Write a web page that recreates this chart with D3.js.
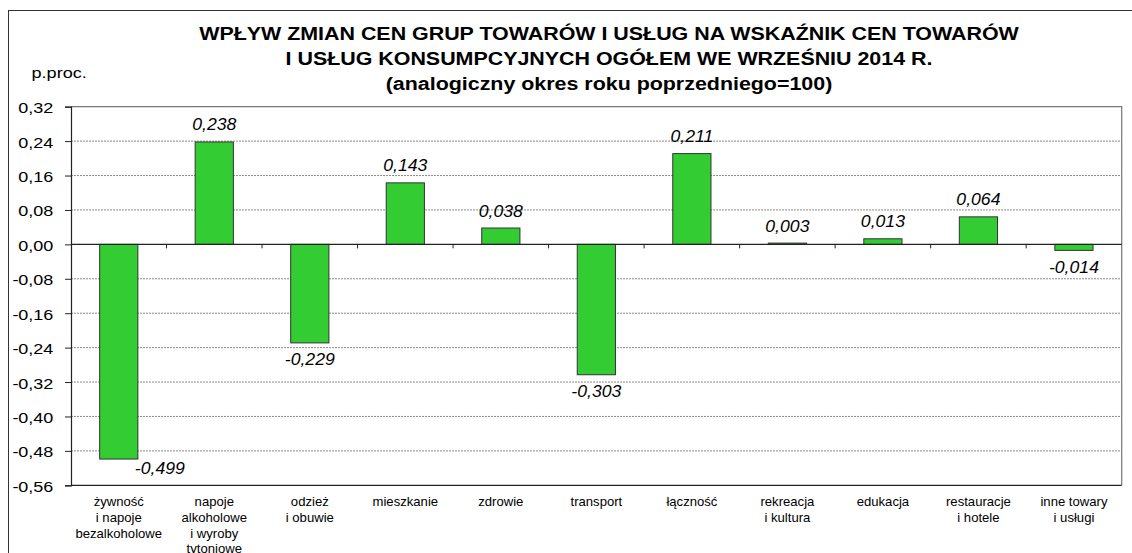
<!DOCTYPE html>
<html>
<head>
<meta charset="utf-8">
<script src="https://cdn.jsdelivr.net/npm/d3@7"></script>
<style>
  body { margin: 0; background: #fff; }
  text { font-family: Arial, "Liberation Sans", sans-serif; }
</style>
</head>
<body>
<script>
// data
const categories = [
  ["żywność", "i napoje", "bezalkoholowe"],
  ["napoje", "alkoholowe", "i wyroby", "tytoniowe"],
  ["odzież", "i obuwie"],
  ["mieszkanie"],
  ["zdrowie"],
  ["transport"],
  ["łączność"],
  ["rekreacja", "i kultura"],
  ["edukacja"],
  ["restauracje", "i hotele"],
  ["inne towary", "i usługi"]
];
const values = [-0.499, 0.238, -0.229, 0.143, 0.038, -0.303, 0.211, 0.003, 0.013, 0.064, -0.014];
const yTicks = [0.32, 0.24, 0.16, 0.08, 0, -0.08, -0.16, -0.24, -0.32, -0.40, -0.48, -0.56];
const titleLines = [
  "WPŁYW ZMIAN CEN GRUP TOWARÓW I USŁUG NA WSKAŹNIK CEN TOWARÓW",
  "I USŁUG KONSUMPCYJNYCH OGÓŁEM WE WRZEŚNIU 2014 R.",
  "(analogiczny okres roku poprzedniego=100)"
];
const unitLabel = "p.proc.";

const width = 1132;
const height = 553;
const margin = {top: 106.7, right: 10.3, bottom: 67.7, left: 71};

const svg = d3.create("svg")
  .attr("width", width)
  .attr("height", height)
  .attr("viewBox", [0, 0, width, height]);

// outer frame
svg.append("rect")
  .attr("x", 8.5).attr("y", 10.5)
  .attr("width", width + 10).attr("height", height + 10)
  .attr("fill", "none").attr("stroke", "#333").attr("stroke-width", 1);

const x = d3.scaleBand()
  .domain(d3.range(categories.length))
  .range([margin.left, width - margin.right])
  .paddingInner(0.6).paddingOuter(0.3);

const y = d3.scaleLinear()
  .domain([-0.56, 0.32])
  .range([height - margin.bottom, margin.top]);

const fmt = v => d3.format(".2f")(v).replace(".", ",").replace("−", "-");
const fmt3 = v => d3.format(".3f")(v).replace(".", ",").replace("−", "-");

// grid
svg.append("g")
  .selectAll("line")
  .data(yTicks.filter(t => t !== 0 && t !== 0.32 && t !== -0.56))
  .join("line")
  .attr("x1", margin.left).attr("x2", width - margin.right)
  .attr("y1", d => y(d)).attr("y2", d => y(d))
  .attr("stroke", "#8a8a8a")
  .attr("stroke-width", 1)
  .attr("stroke-dasharray", "2,1");

// plot border (top, right)
svg.append("path")
  .attr("d", `M${margin.left},${y(0.32)}H${width - margin.right}V${y(-0.56)}`)
  .attr("fill", "none").attr("stroke", "#777").attr("stroke-width", 1.2);
svg.append("line")
  .attr("x1", margin.left).attr("x2", width - margin.right)
  .attr("y1", y(-0.56)).attr("y2", y(-0.56))
  .attr("stroke", "#222").attr("stroke-width", 1.2);

// y axis
const yAxis = svg.append("g")
  .attr("transform", `translate(${margin.left},0)`)
  .call(d3.axisLeft(y).tickValues(yTicks).tickFormat(fmt).tickSize(6));
yAxis.select(".domain").attr("stroke", "#222").attr("stroke-width", 1.2);
yAxis.selectAll(".tick line").attr("stroke", "#222");
yAxis.selectAll("text")
  .attr("font-size", 15).attr("fill", "#000")
  .attr("font-family", "Arial, 'Liberation Sans', sans-serif")
  .attr("x", -14.7).attr("dy", "0.4em")
  .attr("transform", "scale(1.2,1)");

// bars
svg.append("g")
  .selectAll("rect")
  .data(values)
  .join("rect")
  .attr("x", (d, i) => x(i))
  .attr("width", x.bandwidth())
  .attr("y", d => y(Math.max(0, d)))
  .attr("height", d => Math.abs(y(d) - y(0)))
  .attr("fill", "#33cc33")
  .attr("stroke", "#333")
  .attr("stroke-width", 1);

// zero line with category ticks
svg.append("line")
  .attr("x1", margin.left).attr("x2", width - margin.right)
  .attr("y1", y(0)).attr("y2", y(0))
  .attr("stroke", "#222").attr("stroke-width", 1.2);
const catStep = (width - margin.right - margin.left) / categories.length;
svg.append("g")
  .selectAll("line")
  .data(d3.range(1, categories.length))
  .join("line")
  .attr("x1", i => margin.left + i * catStep)
  .attr("x2", i => margin.left + i * catStep)
  .attr("y1", y(0)).attr("y2", y(0) + 4)
  .attr("stroke", "#222");

// value labels (a label that would hit the bottom goes right of its bar)
const nearBottom = d => y(d) + 24 > y(-0.56) - 8;
svg.append("g")
  .selectAll("text")
  .data(values)
  .join("text")
  .attr("font-size", 16.5)
  .attr("font-style", "italic")
  .attr("fill", "#000")
  .attr("text-anchor", d => nearBottom(d) ? "start" : "middle")
  .attr("transform", (d, i) => {
    const tx = nearBottom(d) ? x(i) + x.bandwidth() - 3 : x(i) + x.bandwidth() / 2;
    const ty = d >= 0 ? y(d) - 11.5 : (nearBottom(d) ? y(d) + 14.5 : y(d) + 22.5);
    return `translate(${tx},${ty}) scale(1.07,1)`;
  })
  .text(fmt3);

// category labels
const catG = svg.append("g")
  .selectAll("text")
  .data(categories)
  .join("text")
  .attr("font-size", 12.5)
  .attr("fill", "#000")
  .attr("text-anchor", "middle")
  .attr("transform", (d, i) => `translate(${x(i) + x.bandwidth() / 2},${y(-0.56) + 21}) scale(1.05,1)`);
catG.selectAll("tspan")
  .data(d => d)
  .join("tspan")
  .attr("x", 0)
  .attr("dy", (d, j) => j === 0 ? 0 : 15.7)
  .text(d => d);

// title
svg.append("g")
  .selectAll("text")
  .data(titleLines)
  .join("text")
  .attr("text-anchor", "middle")
  .attr("transform", (d, i) => `translate(609,${40 + i * 25.2}) scale(1.19,1)`)
  .attr("font-size", 18)
  .attr("font-weight", "bold")
  .attr("fill", "#000")
  .text(d => d);

svg.append("text")
  .attr("transform", "translate(31.5,78.3) scale(1.25,1)")
  .attr("font-size", 14.5)
  .attr("fill", "#000")
  .text(unitLabel);

document.body.appendChild(svg.node());
</script>
</body>
</html>
